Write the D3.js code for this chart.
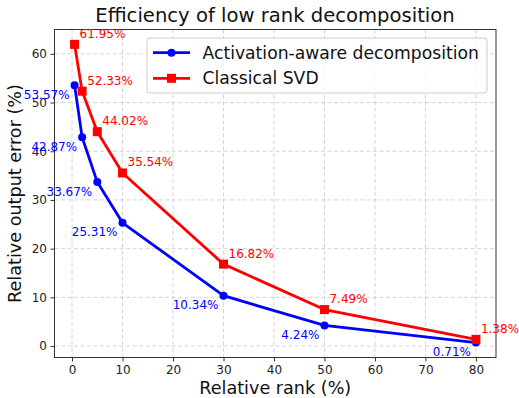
<!DOCTYPE html>
<html><head><meta charset="utf-8">
<script src="https://cdn.jsdelivr.net/npm/d3@7"></script>
<style>body{margin:0;background:#fff}svg{display:block;font-family:"DejaVu Sans",sans-serif}</style>
</head><body><svg id="c" width="519" height="398"></svg>
<script>
const ranks = [0.5, 2, 5, 10, 30, 50, 80];
const activationAware = [53.57, 42.87, 33.67, 25.31, 10.34, 4.24, 0.71];
const classicalSVD = [61.95, 52.33, 44.02, 35.54, 16.82, 7.49, 1.38];
const xTicks = [0, 10, 20, 30, 40, 50, 60, 70, 80];
const yTicks = [0, 10, 20, 30, 40, 50, 60];
const seriesNames = ["Activation-aware decomposition", "Classical SVD"];

const svg = d3.select("#c");
const L = 54.5, R = 496, T = 29.5, B = 357.5;
const x = d3.scaleLinear().domain([-3.475, 83.975]).range([L, R]);
const y = d3.scaleLinear().domain([-2.35, 65.0]).range([B, T]);

// grid
const g = svg.append("g");
g.selectAll(".gx").data(xTicks).join("line")
  .attr("x1", d => x(d)).attr("x2", d => x(d)).attr("y1", T).attr("y2", B)
  .attr("stroke", "#b0b0b0").attr("stroke-opacity", 0.6).attr("stroke-dasharray", "4,2.5").attr("stroke-width", 0.9);
g.selectAll(".gy").data(yTicks).join("line")
  .attr("x1", L).attr("x2", R).attr("y1", d => y(d)).attr("y2", d => y(d))
  .attr("stroke", "#b0b0b0").attr("stroke-opacity", 0.6).attr("stroke-dasharray", "4,2.5").attr("stroke-width", 0.9);

// axes
const xa = svg.append("g").attr("transform", `translate(0,${B})`)
  .call(d3.axisBottom(x).tickValues(xTicks).tickSize(4).tickPadding(3.5));
const ya = svg.append("g").attr("transform", `translate(${L},0)`)
  .call(d3.axisLeft(y).tickValues(yTicks).tickSize(4).tickPadding(3.5));
[xa, ya].forEach(a => {
  a.select(".domain").remove();
  a.selectAll("text").attr("font-size", 12).attr("fill", "#222").attr("font-family", "DejaVu Sans");
  a.selectAll("line").attr("stroke", "#333");
});
svg.append("rect").attr("x", L).attr("y", T).attr("width", R - L).attr("height", B - T)
  .attr("fill", "none").attr("stroke", "#333").attr("stroke-width", 1);

const line = d3.line().x((d, i) => x(ranks[i])).y(d => y(d));
const series = [
  {vals: activationAware, color: "#0000ff", marker: "circle"},
  {vals: classicalSVD, color: "#ff0000", marker: "square"}
];
series.forEach(s => {
  svg.append("path").attr("d", line(s.vals)).attr("fill", "none")
    .attr("stroke", s.color).attr("stroke-width", 2.8).attr("stroke-linejoin", "round");
  if (s.marker === "circle") {
    svg.selectAll(null).data(s.vals).join("circle")
      .attr("cx", (d, i) => x(ranks[i])).attr("cy", d => y(d)).attr("r", 4).attr("fill", s.color);
  } else {
    svg.selectAll(null).data(s.vals).join("rect")
      .attr("x", (d, i) => x(ranks[i]) - 4.5).attr("y", d => y(d) - 4.5)
      .attr("width", 9).attr("height", 9).attr("fill", s.color);
  }
});

// annotations
svg.selectAll(null).data(activationAware).join("text")
  .attr("x", (d, i) => x(ranks[i]) - 5).attr("y", d => y(d) + 13.5)
  .attr("text-anchor", "end").attr("font-size", 12).attr("fill", "#0000ff")
  .text(d => d.toFixed(2) + "%");
svg.selectAll(null).data(classicalSVD).join("text")
  .attr("x", (d, i) => x(ranks[i]) + 5).attr("y", d => y(d) - 6.5)
  .attr("font-size", 12).attr("fill", "#ff0000")
  .text(d => d.toFixed(2) + "%");

// title and labels
svg.append("text").attr("x", 275).attr("y", 22).attr("text-anchor", "middle")
  .attr("font-size", 19.6).attr("fill", "#111").text("Efficiency of low rank decomposition");
svg.append("text").attr("x", (L + R) / 2).attr("y", 394).attr("text-anchor", "middle")
  .attr("font-size", 17.6).attr("fill", "#111").text("Relative rank (%)");
svg.append("text").attr("transform", `translate(21,${(T + B) / 2}) rotate(-90)`).attr("text-anchor", "middle")
  .attr("font-size", 17.6).attr("fill", "#111").text("Relative output error (%)");

// legend
const lg = svg.append("g");
lg.append("rect").attr("x", 147).attr("y", 38).attr("width", 340).attr("height", 55).attr("rx", 3)
  .attr("fill", "#fff").attr("fill-opacity", 0.8).attr("stroke", "#ccc").attr("stroke-width", 1);
series.forEach((s, i) => {
  const cy = 52.7 + i * 25.6;
  lg.append("line").attr("x1", 153).attr("x2", 190).attr("y1", cy).attr("y2", cy)
    .attr("stroke", s.color).attr("stroke-width", 2.8);
  if (s.marker === "circle") lg.append("circle").attr("cx", 171.5).attr("cy", cy).attr("r", 4).attr("fill", s.color);
  else lg.append("rect").attr("x", 167).attr("y", cy - 4.5).attr("width", 9).attr("height", 9).attr("fill", s.color);
  lg.append("text").attr("x", 202.5).attr("y", cy + 6).attr("font-size", 17.2).attr("fill", "#111").text(seriesNames[i]);
});
</script></body></html>
